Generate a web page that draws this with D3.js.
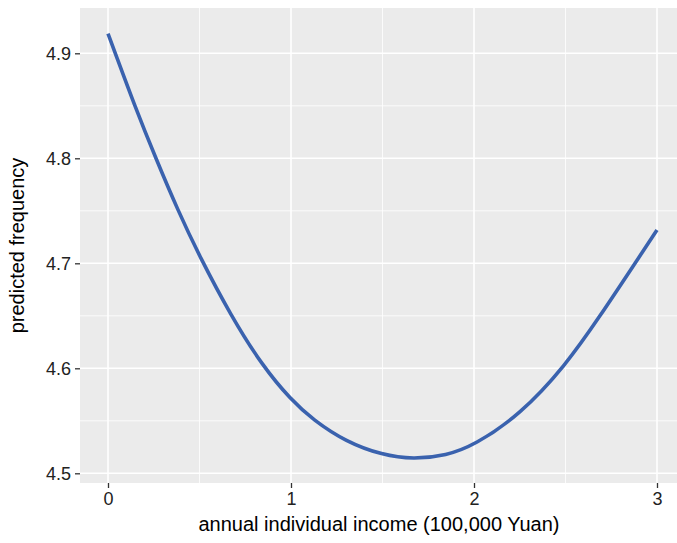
<!DOCTYPE html>
<html><head><meta charset="utf-8">
<script src="https://cdn.jsdelivr.net/npm/d3@7"></script>
<style>body{margin:0;background:#fff}svg{display:block}</style>
</head><body>
<svg id="c" width="677" height="543"></svg>
<script>
const incomeX = [0, 0.04, 0.146, 0.261, 0.383, 0.5, 0.672, 0.845, 1.0, 1.12, 1.3, 1.5, 1.668, 1.85, 2.0, 2.25, 2.5, 2.69, 2.88, 3.0];
const predFreq = [4.9188, 4.9, 4.85, 4.8, 4.75, 4.7067, 4.65, 4.602, 4.570, 4.551, 4.530, 4.5173, 4.5133, 4.517, 4.5266, 4.5555, 4.6025, 4.65, 4.70, 4.7317];
const xTicks = [0, 1, 2, 3];
const xMinor = [0.5, 1.5, 2.5];
const yTicks = [4.5, 4.6, 4.7, 4.8, 4.9];
const yMinor = [4.55, 4.65, 4.75, 4.85];
const xTitle = "annual individual income (100,000 Yuan)";
const yTitle = "predicted frequency";

const svg = d3.select("#c");
const x = d3.scaleLinear().domain([0, 3]).range([108, 657]);
const y = d3.scaleLinear().domain([4.5, 4.9]).range([473.3, 53.3]);
const P = {l: 80, r: 677, t: 8, b: 483};

svg.append("rect").attr("x", P.l).attr("y", P.t).attr("width", P.r - P.l).attr("height", P.b - P.t).attr("fill", "#ebebeb");

const g = svg.append("g");
g.selectAll(".mx").data(xMinor).join("line").attr("x1", d => x(d)).attr("x2", d => x(d)).attr("y1", P.t).attr("y2", P.b).attr("stroke", "#fff").attr("stroke-width", 0.8);
g.selectAll(".my").data(yMinor).join("line").attr("y1", d => y(d)).attr("y2", d => y(d)).attr("x1", P.l).attr("x2", P.r).attr("stroke", "#fff").attr("stroke-width", 0.8);
g.selectAll(".Mx").data(xTicks).join("line").attr("x1", d => x(d)).attr("x2", d => x(d)).attr("y1", P.t).attr("y2", P.b).attr("stroke", "#fff").attr("stroke-width", 1.6);
g.selectAll(".My").data(yTicks).join("line").attr("y1", d => y(d)).attr("y2", d => y(d)).attr("x1", P.l).attr("x2", P.r).attr("stroke", "#fff").attr("stroke-width", 1.6);

const pts = incomeX.map((v, i) => [v, predFreq[i]]);
svg.append("path").datum(pts)
  .attr("d", d3.line().x(d => x(d[0])).y(d => y(d[1])).curve(d3.curveBasis))
  .attr("fill", "none").attr("stroke", "#3a62ae").attr("stroke-width", 3.6).attr("stroke-linecap", "butt");

const font = "'Liberation Sans', Arial, sans-serif";
const xAxis = svg.append("g").attr("transform", `translate(0,${P.b})`)
  .call(d3.axisBottom(x).tickValues(xTicks).tickFormat(d3.format("d")).tickSize(5).tickPadding(4));
const yAxis = svg.append("g").attr("transform", `translate(${P.l},0)`)
  .call(d3.axisLeft(y).tickValues(yTicks).tickFormat(d3.format(".1f")).tickSize(5).tickPadding(4));
[xAxis, yAxis].forEach(a => {
  a.select(".domain").remove();
  a.selectAll(".tick line").attr("stroke", "#333").attr("stroke-width", 1.3);
  a.selectAll(".tick text").attr("fill", "#222").style("font-family", font).style("font-size", "18px");
});

svg.append("text").attr("x", (P.l + 657 + 27) / 2 - 3).attr("y", 531).attr("text-anchor", "middle")
  .style("font-family", font).style("font-size", "20px").attr("fill", "#000").text(xTitle);
svg.append("text").attr("transform", `translate(24,${(P.t + P.b) / 2}) rotate(-90)`).attr("text-anchor", "middle")
  .style("font-family", font).style("font-size", "20px").attr("fill", "#000").text(yTitle);
</script>
</body></html>
